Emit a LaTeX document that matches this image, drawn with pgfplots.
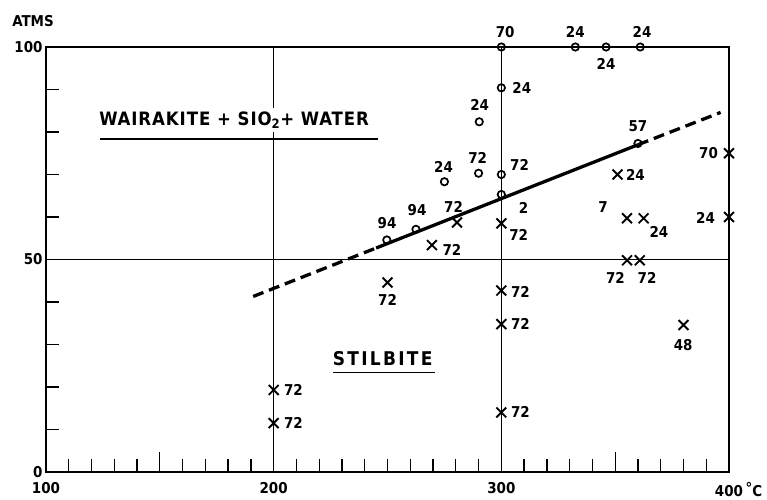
\documentclass[border=0pt]{standalone}
\usepackage{fontspec}
\setmainfont{DejaVu Sans Condensed}
\newfontfamily\spacedA{DejaVu Sans Condensed}[LetterSpace=5]
\newfontfamily\spacedB{DejaVu Sans Condensed}[LetterSpace=12]
\usepackage{pgfplots}
\pgfplotsset{compat=1.18}
\newcommand\lf{\bfseries\fontsize{15}{17}\selectfont}
\begin{document}
\begin{tikzpicture}
\begin{axis}[name=ax, scale only axis, width=683bp, height=425bp,
  xmin=100, xmax=400, ymin=0, ymax=100,
  xtick={100,200,300,400}, ytick={0,50,100},
  xticklabels={100,200,300,400\rlap{\,\raisebox{3pt}{\textdegree}C}},
  minor x tick num=9, minor y tick num=4,
  grid=major, major grid style={black, line width=1.5pt},
  axis line style={line width=1.9pt},
  tick pos=left, major tick length=0pt, minor tick length=13bp,
  every minor tick/.style={black, line width=1.3pt},
  extra x ticks={150,350}, extra x tick labels={},
  extra x tick style={grid=none, major tick length=20bp, every major tick/.style={black,line width=1.3pt}},
  /pgf/number format/assume math mode=true,
  ticklabel style={font=\lf},
  xticklabel style={yshift=-7bp},
  clip=false]
\addplot[line width=3.3pt, dash pattern=on 11bp off 6bp] coordinates {(191,41.3) (245,52.7)};
\addplot[line width=3.3pt] coordinates {(245,52.7) (360,77)};
\addplot[line width=3.3pt, dash pattern=on 11bp off 6bp] coordinates {(360,77) (396.3,84.6)};
% circles
\addplot[only marks, mark=o, mark size=3.7pt, mark options={line width=1.7pt, fill=white}] coordinates {
(300,100) (332.5,100) (346,100) (361,100) (300,90.4) (290.3,82.4) (275,68.3)
(290,70.3) (300,70) (300,65.3) (360,77.3) (262.5,57.1) (249.7,54.6)};
% crosses
\addplot[only marks, mark=x, mark size=7pt, mark options={line width=1.9pt}] coordinates {
(280.5,58.7) (269.5,53.4) (300,58.5) (351,70) (355.2,59.7) (362.5,59.7)
(400,75) (400,60) (250,44.6) (200,19.3) (200,11.5) (300,42.7) (300,34.8)
(300,14) (355.2,49.8) (360.8,49.8) (380,34.6)};
% labels
\begin{scope}[every node/.style={font=\lf, inner sep=0pt}]
\node at (axis cs:301.7,103.5) {70};
\node at (axis cs:332.5,103.5) {24};
\node at (axis cs:346,96) {24};
\node at (axis cs:361.8,103.5) {24};
\node at (axis cs:309,90.3) {24};
\node at (axis cs:290.5,86.4) {24};
\node at (axis cs:274.6,71.8) {24};
\node at (axis cs:289.6,74) {72};
\node at (axis cs:308,72.2) {72};
\node at (axis cs:309.8,62.2) {2};
\node at (axis cs:360,81.4) {57};
\node at (axis cs:391,75) {70};
\node at (axis cs:389.7,59.7) {24};
\node at (axis cs:358.9,70) {24};
\node at (axis cs:344.7,62.4) {7};
\node at (axis cs:369.2,56.5) {24};
\node at (axis cs:307.6,55.8) {72};
\node at (axis cs:279,62.4) {72};
\node at (axis cs:263,61.6) {94};
\node at (axis cs:249.8,58.5) {94};
\node at (axis cs:278.3,52.2) {72};
\node at (axis cs:250,40.5) {72};
\node at (axis cs:308.4,42.4) {72};
\node at (axis cs:308.4,34.8) {72};
\node at (axis cs:308.4,14.1) {72};
\node at (axis cs:208.7,19.3) {72};
\node at (axis cs:208.7,11.5) {72};
\node at (axis cs:350.1,45.6) {72};
\node at (axis cs:364,45.6) {72};
\node at (axis cs:379.9,29.9) {48};
\end{scope}
% region names
\node[fill=white, inner sep=3pt, font=\spacedA\bfseries\fontsize{18.5}{20}\selectfont] at (axis cs:182.6,82.8) {WAIRAKITE + SIO\textsubscript{2}+ WATER};
\draw[line width=1.9pt] (axis cs:123.7,78.4) -- (axis cs:245.9,78.4);
\node[inner sep=1pt, font=\spacedB\bfseries\fontsize{19}{21}\selectfont] at (axis cs:247.9,26.6) {STILBITE};
\draw[line width=1.9pt] (axis cs:226,23.4) -- (axis cs:271,23.4);
\end{axis}
\node[font=\bfseries\fontsize{15}{17}\selectfont] at ([shift={(-13bp,26bp)}]ax.north west) {ATMS};
\pgfresetboundingbox
\path[use as bounding box] ([shift={(-46bp,-28bp)}]ax.south west) rectangle ([shift={(38bp,47bp)}]ax.north east);
\end{tikzpicture}
\end{document}
